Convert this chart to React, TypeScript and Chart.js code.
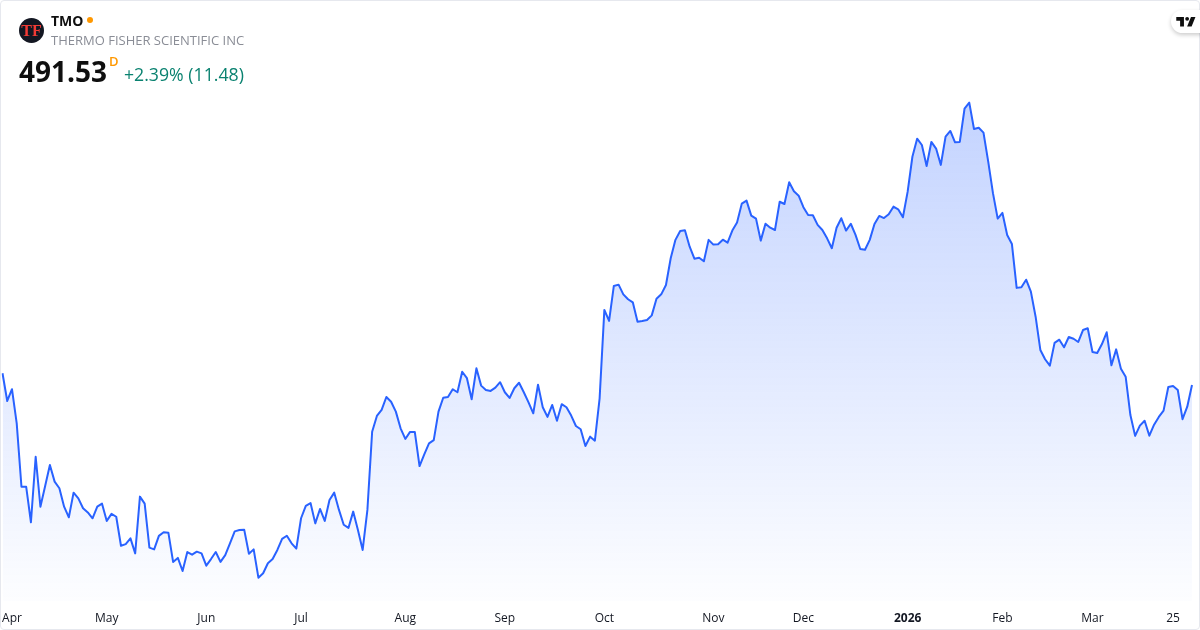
import React, { useEffect, useRef } from "react";
import { Chart, registerables } from "chart.js";

Chart.register(...registerables);

const prices = [
  497.7,483.1,489.3,471.3,437.9,437.9,419.2,453.7,427.4,438.3,449.4,440.6,437.1,427.4,421.8,434.8,431.8,426.6,424.4,421.3,427.4,429.0,419.9,423.6,422.1,406.8,407.7,410.7,402.8,432.7,429.0,405.8,404.9,412.0,413.9,413.7,398.3,400.4,393.5,403.5,402.1,403.7,
  402.8,396.3,399.8,403.5,398.3,401.9,408.1,414.4,415.1,415.3,402.6,404.9,390.0,392.3,397.6,399.8,404.6,410.4,412.1,408.1,405.3,421.3,427.8,429.3,418.6,426.2,419.9,430.9,434.8,425.7,417.9,416.2,424.8,415.1,404.6,425.7,466.9,475.2,478.4,485.2,482.7,477.5,
  468.7,463.1,466.8,466.8,448.8,455.0,460.8,462.5,477.5,484.8,485.2,489.3,487.7,498.5,495.1,484.0,500.3,491.2,488.9,488.4,490.1,493.0,487.7,484.7,489.8,492.7,487.7,482.4,476.6,491.7,479.8,474.7,481.0,472.7,481.4,479.8,475.4,469.9,468.2,459.4,464.3,462.2,484.5,531.1,525.3,543.7,544.4,539.3,536.7,535.1,524.9,
  525.3,525.8,528.2,537.0,539.3,544.2,558.3,568.0,572.7,573.1,564.4,558.1,558.6,556.7,568.0,565.5,565.7,568.1,566.5,572.9,577.1,587.1,588.7,580.8,579.2,567.6,576.5,574.4,573.2,588.1,586.9,598.4,593.6,591.3,585.2,581.1,581.0,575.9,573.2,568.8,563.6,574.4,579.4,572.9,576.5,570.6,563.2,562.8,568.0,576.4,580.6,
  579.5,581.5,585.5,584.1,579.9,593.4,611.8,621.3,618.0,606.9,619.6,616.1,607.5,622.4,625.4,619.4,619.6,637.1,640.3,626.4,627.1,624.5,609.2,592.6,579.2,582.2,570.6,565.8,542.7,543.0,547.0,540.7,
  527.5,510.0,505.1,501.7,513.7,515.4,511.4,516.8,515.9,514.2,520.5,521.4,508.9,508.4,513.1,519.3,501.9,510.3,500.1,495.9,475.7,464.7,470.1,472.7,464.8,470.6,474.7,478.0,490.5,491.0,488.9,473.5,480.1,491.53,
];

const tickLabels = ["Apr","May","Jun","Jul","Aug","Sep","Oct","Nov","Dec","2026","Feb","Mar","25"];
const tickIndexes = [2,22,43,63,85,106,127,150,169,191,211,230,247];

const labels = prices.map((_, i) => String(i));

const ticker = "TMO";
const companyName = "THERMO FISHER SCIENTIFIC INC";
const lastPrice = "491.53";
const change = "+2.39% (11.48)";

const openSans = '"Open Sans", sans-serif';

export default function App() {
  const ref = useRef<HTMLCanvasElement | null>(null);

  useEffect(() => {
    document.body.style.margin = "0";
    document.body.style.background = "#ffffff";
    const chart = new Chart(ref.current as HTMLCanvasElement, {
      type: "line",
      data: {
        labels,
        datasets: [
          {
            data: prices,
            borderColor: "#2962ff",
            borderWidth: 2,
            pointRadius: 0,
            tension: 0,
            borderJoinStyle: "round",
            fill: "start",
            backgroundColor: (ctx: any) => {
              const { chart: c } = ctx;
              const area = c.chartArea;
              if (!area) return "rgba(41,98,255,0.1)";
              const g = c.ctx.createLinearGradient(0, 103, 0, area.bottom);
              g.addColorStop(0, "rgba(41,98,255,0.28)");
              g.addColorStop(1, "rgba(41,98,255,0.01)");
              return g;
            },
          },
        ],
      },
      options: {
        responsive: false,
        animation: false,
        layout: { padding: { left: 2.5, right: 8, top: 0, bottom: 0 } },
        plugins: { legend: { display: false }, tooltip: { enabled: false } },
        scales: {
          x: {
            type: "category",
            offset: false,
            grid: { display: false },
            border: { display: false },
            afterFit: (s: any) => {
              s.height = 29;
              s.paddingLeft = 0;
              s.paddingRight = 0;
            },
            afterBuildTicks: (s: any) => {
              s.ticks = tickIndexes.map((v) => ({ value: v }));
            },
            ticks: {
              autoSkip: false,
              maxRotation: 0,
              minRotation: 0,
              padding: 2,
              color: "#131722",
              font: (ctx: any) => ({
                family: "Open Sans",
                size: 12,
                weight: ctx.tick && tickLabels[tickIndexes.indexOf(ctx.tick.value)] === "2026" ? 700 : 400,
              }),
              callback: (v: any) => tickLabels[tickIndexes.indexOf(Number(v))] ?? "",
            },
          },
          y: {
            display: false,
            min: 377.7,
            max: 694.4,
          },
        },
      },
    } as any);
    return () => chart.destroy();
  }, []);

  return (
    <div style={{ position: "relative", width: 1200, height: 630, overflow: "hidden", background: "#fff", fontFamily: openSans }}>
      <canvas ref={ref} width={1200} height={630} style={{ position: "absolute", left: 0, top: 0, display: "block" }} />
      <div style={{ position: "absolute", left: 0, top: 0, width: 1198, height: 628, border: "1px solid #e6e8ee", borderRadius: 4 }} />
      <div style={{ position: "absolute", left: 19, top: 18, width: 25, height: 25, borderRadius: "50%", background: "#131722", color: "#f23a35", fontFamily: '"Liberation Serif", serif', fontWeight: 700, fontSize: 16, lineHeight: "25px", textAlign: "center" }}>TF</div>
      <div style={{ position: "absolute", left: 51, top: 11, fontSize: 14, fontWeight: 700, lineHeight: "19px", color: "#0f0f0f" }}>{ticker}</div>
      <div style={{ position: "absolute", left: 87, top: 17, width: 6, height: 6, borderRadius: "50%", background: "#ff9800" }} />
      <div style={{ position: "absolute", left: 51, top: 32, fontSize: 13, lineHeight: "17px", color: "#8a8d96", whiteSpace: "nowrap" }}>{companyName}</div>
      <div style={{ position: "absolute", left: 19, top: 52, fontSize: 28, fontWeight: 700, lineHeight: "38px", color: "#0f0f0f" }}>{lastPrice}</div>
      <div style={{ position: "absolute", left: 109, top: 52, fontSize: 13, fontWeight: 600, lineHeight: "18px", color: "#ff9800" }}>D</div>
      <div style={{ position: "absolute", left: 124, top: 62, fontSize: 17.7, lineHeight: "25px", color: "#0a8270", whiteSpace: "nowrap" }}>{change}</div>
      <div style={{ position: "absolute", left: 1171, top: 10, width: 40, height: 23, borderRadius: 12, background: "#fff", boxShadow: "0 2px 4px rgba(0,0,0,0.2)" }} />
      <svg style={{ position: "absolute", left: 1175, top: 13 }} width="23" height="18" viewBox="0 0 36 28">
        <path fill="#0f0f0f" d="M14 6H2v6h6v9h6V6zm12 15h-7l6-15h7l-6 15zm-7-9a3 3 0 1 0 0-6 3 3 0 0 0 0 6z" />
      </svg>
    </div>
  );
}
